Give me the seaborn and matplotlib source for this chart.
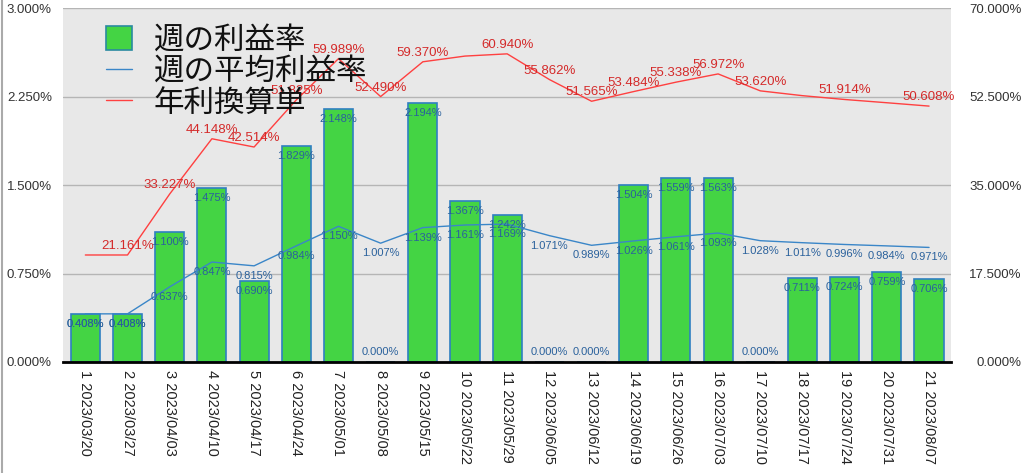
import numpy as np
import pandas as pd
import matplotlib
matplotlib.use("Agg")
import matplotlib.pyplot as plt
import seaborn as sns
from matplotlib.patches import Patch
from matplotlib.lines import Line2D
from matplotlib.ticker import FuncFormatter

weeks = list(range(1, 22))
dates = ["2023/03/20", "2023/03/27", "2023/04/03", "2023/04/10", "2023/04/17",
         "2023/04/24", "2023/05/01", "2023/05/08", "2023/05/15", "2023/05/22",
         "2023/05/29", "2023/06/05", "2023/06/12", "2023/06/19", "2023/06/26",
         "2023/07/03", "2023/07/10", "2023/07/17", "2023/07/24", "2023/07/31",
         "2023/08/07"]
weekly = [0.408, 0.408, 1.100, 1.475, 0.690, 1.829, 2.148, 0.000, 2.194, 1.367,
          1.242, 0.000, 0.000, 1.504, 1.559, 1.563, 0.000, 0.711, 0.724, 0.759, 0.706]
avg = [0.408, 0.408, 0.637, 0.847, 0.815, 0.984, 1.150, 1.007, 1.139, 1.161,
       1.169, 1.071, 0.989, 1.026, 1.061, 1.093, 1.028, 1.011, 0.996, 0.984, 0.971]
annual = [21.161, 21.161, 33.227, 44.148, 42.514, 51.825, 59.989, 52.490, 59.370, 60.50,
          60.940, 55.862, 51.565, 53.484, 55.338, 56.972, 53.620, 52.67, 51.914, 51.27, 50.608]
annual_label_shown = [False, True, True, True, True, True, True, True, True, False,
                      True, True, True, True, True, True, True, False, True, False, True]
left_ticks = [0.0, 0.75, 1.5, 2.25, 3.0]
right_ticks = [0.0, 17.5, 35.0, 52.5, 70.0]
legend_labels = ["週の利益率", "週の平均利益率", "年利換算単"]

sns.set_theme(style="white")
plt.rcParams['font.family'] = ['Liberation Sans', 'Noto Sans CJK JP', 'DejaVu Sans']

GREEN = "#44d444"
BAR_EDGE = "#2f7fc1"
BLUE = "#3a86c8"
BLUE_TXT = "#2a619c"
RED = "#ff4040"
RED_TXT = "#d42a2a"

df = pd.DataFrame({"idx": np.arange(len(weeks)), "weekly": weekly, "avg": avg, "annual": annual})

fig = plt.figure(figsize=(10.24, 4.73), dpi=100)
ax = fig.add_axes([0.0615, 0.2347, 0.9287 - 0.0615, 0.983 - 0.2347])
ax.set_facecolor("#e8e8e8")

sns.barplot(data=df, x="idx", y="weekly", ax=ax, color=GREEN, width=0.69,
            edgecolor=BAR_EDGE, linewidth=1.2, saturation=1)
sns.lineplot(data=df, x="idx", y="avg", ax=ax, color=BLUE, lw=1.0)

ax.set_xlim(-0.53, 20.52)
ax.set_ylim(0, 3.0)
ax.set_yticks(left_ticks)
ax.yaxis.set_major_formatter(FuncFormatter(lambda v, p: f"{v:.3f}%"))
ax.grid(axis="y", color="#b5b5b5", lw=1.0)
ax.set_axisbelow(True)
ax.set_xticks(range(len(weeks)))
ax.set_xticklabels([f"{w} {d}" for w, d in zip(weeks, dates)], rotation=270,
                   fontsize=10.5, color="#222222", va="top", ha="center")
ax.tick_params(axis="x", length=0, pad=6)
ax.tick_params(axis="y", length=0, pad=8, labelsize=9.5, labelcolor="#333333")
ax.set_xlabel("")
ax.set_ylabel("")
for s in ["top", "left", "right"]:
    ax.spines[s].set_visible(False)
ax.spines["bottom"].set_color("black")
ax.spines["bottom"].set_linewidth(2)

# bar labels
for i, v in enumerate(weekly):
    off = -10 if v > 0 else 10
    ax.annotate(f"{v:.3f}%", (i, v), xytext=(0, off), textcoords="offset pixels",
                ha="center", va="center", fontsize=8, color=BLUE_TXT)
# avg labels
for i, v in enumerate(avg):
    ax.annotate(f"{v:.3f}%", (i, v), xytext=(0, -10), textcoords="offset pixels",
                ha="center", va="center", fontsize=8, color=BLUE_TXT)

ax2 = ax.twinx()
sns.lineplot(data=df, x="idx", y="annual", ax=ax2, color=RED, lw=1.0)
ax2.set_ylim(0, 70)
ax2.set_yticks(right_ticks)
ax2.yaxis.set_major_formatter(FuncFormatter(lambda v, p: f"{v:.3f}%"))
ax2.grid(False)
ax2.set_ylabel("")
ax2.tick_params(axis="y", length=0, pad=51, labelsize=9.5, labelcolor="#333333")
for lab in ax2.get_yticklabels():
    lab.set_horizontalalignment("right")
for s in ax2.spines.values():
    s.set_visible(False)
for i, v in enumerate(annual):
    if annual_label_shown[i]:
        ax2.annotate(f"{v:.3f}%", (i, v), xytext=(0, 9), textcoords="offset pixels",
                     ha="center", va="center", fontsize=9.5, color=RED_TXT)

handles = [Patch(facecolor=GREEN, edgecolor="#2a8aa0", linewidth=1.2),
           Line2D([0], [0], color=BLUE, lw=1.0),
           Line2D([0], [0], color=RED, lw=1.0)]
leg = ax2.legend(handles, legend_labels, loc="upper left", bbox_to_anchor=(0.035, 0.985),
                 frameon=False, fontsize=22, handlelength=0.85, handleheight=0.85,
                 handletextpad=0.7, labelspacing=0.05, borderaxespad=0.0)
for t in leg.get_texts():
    t.set_color("#111111")

fig.add_artist(Line2D([1.5 / 1024, 1.5 / 1024], [0, 1], color="#aaaaaa", lw=1.5,
                      transform=fig.transFigure))

fig.savefig("out.png", dpi=100, facecolor="white")
